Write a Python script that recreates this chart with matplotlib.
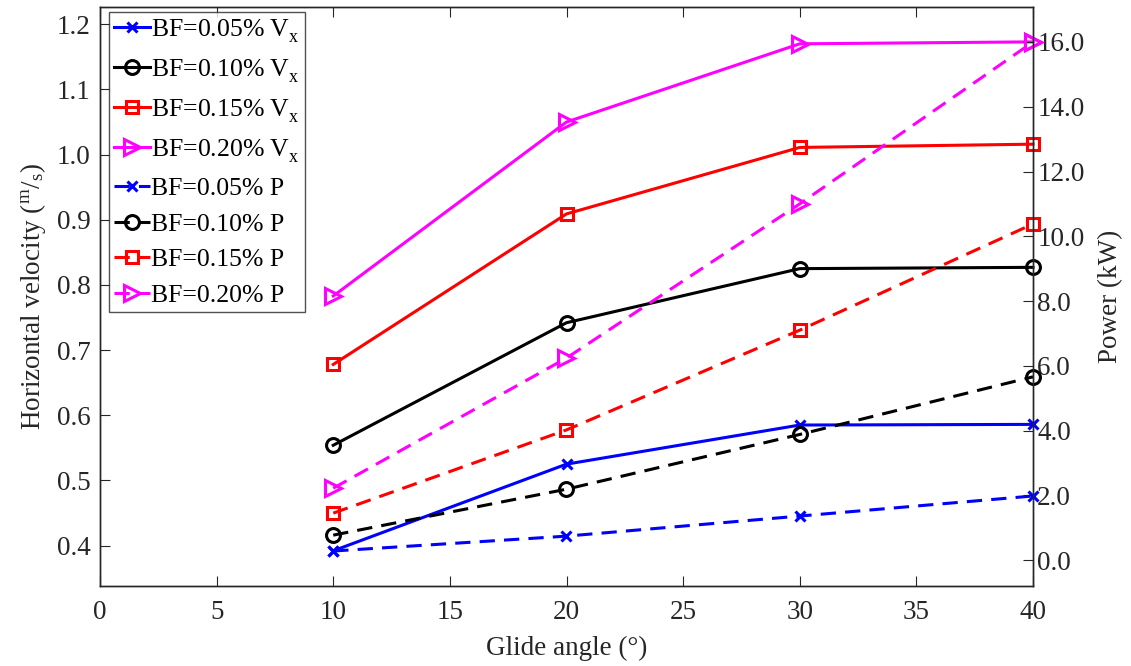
import matplotlib.pyplot as plt
from matplotlib.ticker import FormatStrFormatter

plt.rcParams.update(
    {
        "font.family": ["Liberation Serif", "DejaVu Serif"],
        "mathtext.fontset": "custom",
        "mathtext.rm": "Liberation Serif",
        "mathtext.it": "Liberation Serif",
        "font.size": 19.5,
    }
)

# glide angle (deg)
angle = [10, 20, 30, 40]

# horizontal velocity (m/s), left axis
vx_005 = [0.392, 0.525, 0.585, 0.586]
vx_010 = [0.554, 0.742, 0.825, 0.827]
vx_015 = [0.678, 0.909, 1.011, 1.016]
vx_020 = [0.783, 1.050, 1.170, 1.173]

# power (kW), right axis
p_005 = [0.28, 0.74, 1.36, 1.98]
p_010 = [0.77, 2.19, 3.88, 5.66]
p_015 = [1.45, 4.02, 7.10, 10.38]
p_020 = [2.22, 6.24, 11.0, 16.0]

bf_labels = ["0.05", "0.10", "0.15", "0.20"]
colors = ["#0000ff", "#000000", "#ff0000", "#ff00ff"]
markers = ["x", "o", "s", ">"]
msizes = [7, 10, 8, 12]

fig = plt.figure(figsize=(11.31, 6.66), dpi=100)
ax = fig.add_axes([100 / 1131, 1 - 586 / 666, 933 / 1131, 579 / 666])
ax2 = ax.twinx()

handles = []
for vals, bf, c, m, ms in zip([vx_005, vx_010, vx_015, vx_020], bf_labels, colors, markers, msizes):
    # empty superscript pushes the subscript lower, like the original
    (h,) = ax.plot(angle, vals, color=c, lw=2.2, marker=m, ms=ms, mfc="none",
                   mew=2.2, label=f"BF={bf}% V$^{{}}_{{\\rm x}}$", clip_on=False)
    handles.append(h)
for vals, bf, c, m, ms in zip([p_005, p_010, p_015, p_020], bf_labels, colors, markers, msizes):
    (h,) = ax2.plot(angle, vals, color=c, lw=2.2, ls=(0, (5, 3)), marker=m, ms=ms,
                    mfc="none", mew=2.2, label=f"BF={bf}% P", clip_on=False)
    handles.append(h)

ax.set_xlim(0, 40)
ax.set_ylim(0.338, 1.2265)
ax2.set_ylim(-0.8, 17.08)
ax.set_xticks(range(0, 41, 5))
ax.set_yticks([0.4, 0.5, 0.6, 0.7, 0.8, 0.9, 1.0, 1.1, 1.2])
ax2.set_yticks(range(0, 17, 2))
ax.yaxis.set_major_formatter(FormatStrFormatter("%.1f"))
ax2.yaxis.set_major_formatter(FormatStrFormatter("%.1f"))

ax.tick_params(axis="x", direction="in", top=True, length=7, pad=10, colors="#262626",
               labelcolor="#262626", labelsize=19.5)
ax.tick_params(axis="y", direction="in", length=7, pad=7, colors="#262626",
               labelcolor="#262626", labelsize=19.5)
ax2.tick_params(axis="y", direction="in", length=7, pad=3, colors="#262626",
                labelcolor="#262626", labelsize=19.5)
for a in (ax, ax2):
    for s in a.spines.values():
        s.set_color("#262626")
        s.set_linewidth(1.0)

ax.set_xlabel("Glide angle (°)", fontsize=19.5, color="#262626", labelpad=8)
ax.set_ylabel("Horizontal velocity ($^{\\rm m}/_{\\rm s}$)", fontsize=19.5, color="#262626", labelpad=6)
ax2.set_ylabel("Power (kW)", fontsize=19.5, color="#262626", labelpad=10)

leg = ax.legend(handles=handles, loc="upper left", bbox_to_anchor=(0.0096, 0.991),
                fontsize=18.5, frameon=True, fancybox=False, borderpad=0.2,
                labelspacing=0.5, handlelength=1.4, handletextpad=0.05,
                borderaxespad=0.0)
leg.get_frame().set_edgecolor("#262626")
leg.get_frame().set_linewidth(1.0)
leg.set_zorder(10)

fig.savefig("out.png", dpi=100)
